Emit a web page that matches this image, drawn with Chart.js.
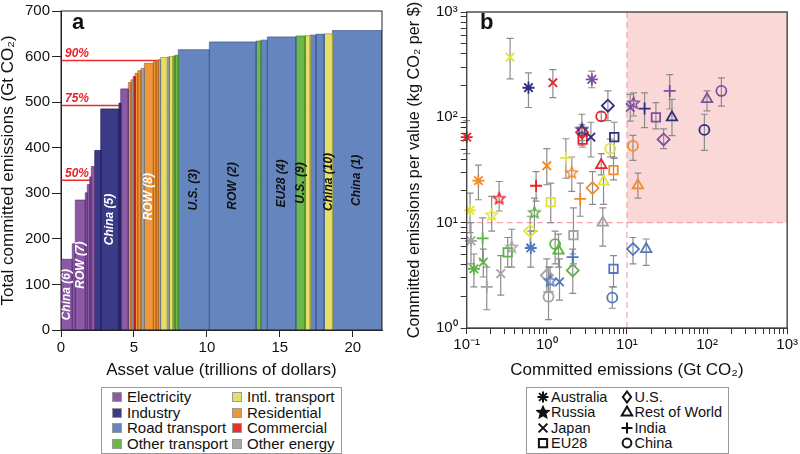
<!DOCTYPE html>
<html>
<head>
<meta charset="utf-8">
<title>Committed emissions</title>
<script src="https://cdn.jsdelivr.net/npm/chart.js@4.4.1/dist/chart.umd.min.js"></script>
<style>
  body { margin: 0; background: #fff; font-family: "Liberation Sans", Arial, sans-serif; color: #111; }
  #page { position: relative; width: 800px; height: 454px; overflow: hidden; }
  canvas { position: absolute; top: 0; }
  #chartA { left: 0; }
  #chartB { left: 400px; }
  .tag { position: absolute; font-weight: bold; font-size: 22px; line-height: 22px; }
  .legend { position: absolute; border: 1px solid #9a9a9a; box-sizing: border-box; }
  .item { position: absolute; font-size: 15px; line-height: 16px; white-space: nowrap; }
  .sw { position: absolute; width: 10px; height: 10px; border: 1px solid #999; box-sizing: border-box; }
</style>
</head>
<body>
<div id="page">
  <canvas id="chartA" width="400" height="382"></canvas>
  <canvas id="chartB" width="400" height="382"></canvas>
  <div class="tag" style="left:72px;top:11px">a</div>
  <div class="tag" style="left:480px;top:11px">b</div>
  <div class="legend" style="left:101px;top:387px;width:241px;height:67px"></div>
  <div class="legend" style="left:526px;top:387px;width:203px;height:67px"></div>
</div>
<script>
/* ---------- 공통 ---------- */
const sectors = ['Electricity', 'Industry', 'Road transport', 'Other transport',
                 'Intl. transport', 'Residential', 'Commercial', 'Other energy'];
const sectorFill = ['#8b59a6', '#3b3a88', '#6585bf', '#6cb84a', '#e4de6b', '#f0963a', '#ea302c', '#a9a9ab'];
const sectorEdge = ['#5e3a78', '#24235f', '#45608f', '#4a8a30', '#a8a23e', '#b86a20', '#a81c1a', '#77777a'];
const sectorMark = ['#7c4f9f', '#2d2c80', '#4f78bf', '#5cb443', '#e3e33a', '#f28a2a', '#ec2227', '#a3a3a3'];

/* ---------- panel a ---------- */
// asset value of each bar (trillions of dollars)
const barWidth = [0.775, 0.206, 0.686, 0.137, 0.165, 0.110, 0.233, 0.410, 1.255, 0.117,
                  0.520, 0.185, 0.158, 0.117, 0.185, 0.226, 0.226, 0.617, 0.185, 0.158,
                  0.151, 0.466, 0.137, 0.233, 0.158, 0.226, 2.126, 3.203, 0.322, 0.453,
                  1.948, 0.638, 0.343, 0.391, 0.569, 0.569, 3.388];
// cumulative committed emissions at the top of each bar (Gt CO2)
const barTop = [155, 189, 285, 301, 319, 336, 359, 394, 485, 498,
                529, 543, 549, 556, 563, 569, 574, 585, 589, 591,
                593, 598, 599, 600, 601, 603, 615, 632, 634, 636,
                643, 645, 646, 647, 649, 650, 657];
const barSector = [0, 0, 0, 0, 0, 0, 0, 1, 1, 1,
                   0, 5, 7, 6, 5, 5, 7, 5, 5, 5,
                   7, 4, 7, 4, 3, 3, 2, 2, 3, 2,
                   2, 3, 4, 2, 2, 4, 2];
const namedBar = [0, 2, 8, 17, 26, 27, 30, 31, 35, 36];
const namedText = ['China (6)', 'ROW (7)', 'China (5)', 'ROW (8)', 'U.S. (3)',
                   'ROW (2)', 'EU28 (4)', 'U.S. (9)', 'China (10)', 'China (1)'];
const shareLines = [50, 75, 90];

/* ---------- panel b ---------- */
const countries = ['Australia', 'Russia', 'Japan', 'EU28', 'U.S.', 'Rest of World', 'India', 'China'];
// columns follow sectors: Elec, Industry, Road, Other tr., Intl., Resid., Comm., Other en.
const emis = [
  [3.65, 0.59, 0.63, 0.123, 0.11, 0.14, 0.1, 0.113],
  [12.1, 2.74, 1.1, 0.70, 0.205, 2.05, 0.254, 0.365],
  [11.0, 3.55, 1.44, 0.161, 0.348, 1.0, 1.19, 0.266],
  [23.0, 6.95, 6.8, 0.325, 1.12, 6.8, 2.8, 2.15],
  [28.7, 5.79, 11.9, 2.11, 0.62, 3.72, 2.75, 1.0],
  [100, 36.5, 17.4, 1.4, 5.11, 13.7, 4.78, 5.0],
  [34.2, 16.6, 2.1, 0.158, 1.73, 2.61, 0.735, 0.178],
  [151, 92.6, 6.56, 1.27, 6.19, 11.9, 4.78, 1.05]
];
const perValue = [
  [229, 191, 5.75, 3.65, 13.1, 25.1, 65, 6.73],
  [138, 77.7, 2.84, 12.6, 12, 30.1, 17.1, 5.91],
  [124, 65, 2.74, 4.22, 373, 34.7, 213, 3.28],
  [100, 65, 3.65, 5.23, 15.7, 31.6, 61.3, 7.6],
  [61.7, 129, 5.62, 3.52, 8.35, 21.3, 72, 3.16],
  [149, 100, 5.62, 5.42, 24.6, 22.6, 35.2, 10],
  [178, 121, 4.7, 7.08, 41.3, 16.8, 22.4, 2.46],
  [178, 76, 1.94, 6.26, 50.5, 53.5, 102, 1.98]
];
const errHigh = [
  [274, 264, 8.3, 5.04, 19.1, 35.2, 93, 10],
  [171, 107, 3.78, 17.1, 17.8, 42, 24.6, 8.66],
  [165, 89.8, 4.53, 5.62, 562, 50.5, 284, 4.87],
  [138, 89.8, 4.87, 7.23, 23.7, 42, 68, 13.8],
  [77.7, 178, 7.23, 5.04, 11.5, 30.5, 85, 4.53],
  [178, 148, 7.0, 7.8, 32.8, 29.5, 45.3, 13.8],
  [254, 171, 5.6, 11.1, 62.6, 23.7, 30.5, 3.78],
  [237, 107, 2.46, 8.3, 62, 67.3, 112, 3.78]
];
const errLow = [
  [191, 124, 3.78, 2.46, 8.06, 16.5, 45.3, 4.07],
  [103, 54, 2.2, 8.3, 8.3, 19.8, 12.9, 3.78],
  [92, 42, 1.84, 3.05, 232, 22.9, 154, 2.05],
  [77.7, 40.7, 2.46, 3.78, 10, 25.5, 52, 4.07],
  [50.5, 93, 4.07, 2.13, 6.0, 14.9, 60, 2.2],
  [115, 67, 3.93, 3.78, 14.9, 17.1, 28.4, 6.0],
  [120, 80, 3.9, 4.37, 26.4, 11.5, 16, 1.49],
  [128, 48.6, 1.54, 4.07, 42, 39, 93, 1.2]
];
const threshold = 10;

Chart.defaults.font.family = '"Liberation Sans", Arial, sans-serif';
Chart.defaults.color = '#111';

/* marker shapes, also used for the legend of b */
function drawMark(g, kind, cx, cy, r, color, lw, filled) {
    g.strokeStyle = color;
    g.fillStyle = color;
    g.lineWidth = lw;
    g.beginPath();
    if (kind === 'star5') {
        const ri = r * 0.45;
        for (let i = 0; i < 10; i++) {
            const a = -Math.PI / 2 + i * Math.PI / 5;
            const rr = i % 2 ? ri : r;
            g.lineTo(cx + rr * Math.cos(a), cy + 0.6 + rr * Math.sin(a));
        }
        g.closePath();
        if (filled) g.fill();
    } else if (kind === 'star') {
        for (let i = 0; i < 4; i++) {
            const a = i * Math.PI / 4;
            g.moveTo(cx - r * Math.cos(a), cy - r * Math.sin(a));
            g.lineTo(cx + r * Math.cos(a), cy + r * Math.sin(a));
        }
    } else if (kind === 'crossRot') {
        const d = r * 0.8;
        g.moveTo(cx - d, cy - d); g.lineTo(cx + d, cy + d);
        g.moveTo(cx - d, cy + d); g.lineTo(cx + d, cy - d);
    } else if (kind === 'cross') {
        g.moveTo(cx - r, cy); g.lineTo(cx + r, cy);
        g.moveTo(cx, cy - r); g.lineTo(cx, cy + r);
    } else if (kind === 'rect') {
        const d = r * 0.75;
        g.rect(cx - d, cy - d, 2 * d, 2 * d);
    } else if (kind === 'rectRot') {
        g.moveTo(cx, cy - r); g.lineTo(cx + r * 0.75, cy); g.lineTo(cx, cy + r); g.lineTo(cx - r * 0.75, cy); g.closePath();
    } else if (kind === 'triangle') {
        g.moveTo(cx, cy - r); g.lineTo(cx + r * 0.95, cy + r * 0.65); g.lineTo(cx - r * 0.95, cy + r * 0.65); g.closePath();
    } else {
        g.arc(cx, cy, r * 0.8, 0, Math.PI * 2);
    }
    g.stroke();
}
function markCanvas(kind, color, size, lw, filled) {
    const c = document.createElement('canvas');
    c.width = c.height = size;
    drawMark(c.getContext('2d'), kind, size / 2, size / 2, size / 2 - 1.5, color, lw, filled);
    return c;
}

const frame = {
    id: 'frame',
    afterDraw(chart, args, opts) {
        const { left, top, right, bottom } = chart.chartArea;
        const ctx = chart.ctx;
        ctx.save();
        ctx.strokeStyle = opts.color;
        ctx.lineWidth = opts.width;
        ctx.strokeRect(left, top, right - left, bottom - top);
        ctx.restore();
    }
};

/* ---------- chart a ---------- */
const barStart = [];
let acc = 0;
barWidth.forEach(w => { barStart.push(acc); acc += w; });
const total = barTop[barTop.length - 1];

const dsA = barWidth.map((w, i) => ({
    data: [{ x: barStart[i], y: 0 }, { x: barStart[i], y: barTop[i] },
           { x: barStart[i] + w, y: barTop[i] }, { x: barStart[i] + w, y: 0 }],
    fill: 'origin',
    backgroundColor: sectorFill[barSector[i]],
    borderColor: sectorEdge[barSector[i]],
    borderWidth: 0.8,
    pointRadius: 0,
    tension: 0
}));
shareLines.forEach(p => {
    dsA.push({
        data: [{ x: 0, y: total * p / 100 }, { x: 22, y: total * p / 100 }],
        borderColor: '#ee2b2b', borderWidth: 1.5, pointRadius: 0, fill: false
    });
});

const barText = {
    id: 'barText',
    afterDatasetsDraw(chart) {
        const ctx = chart.ctx, xs = chart.scales.x, ys = chart.scales.y;
        ctx.save();
        ctx.font = 'italic bold 12px "Liberation Sans", Arial, sans-serif';
        ctx.textAlign = 'center';
        ctx.textBaseline = 'middle';
        namedBar.forEach((i, k) => {
            const xc = xs.getPixelForValue(barStart[i] + barWidth[i] / 2);
            const yc = ys.getPixelForValue(barTop[i] / 2);
            ctx.save();
            ctx.translate(xc, yc);
            ctx.rotate(-Math.PI / 2);
            ctx.fillStyle = [0, 1, 5].includes(barSector[i]) ? '#fff' : '#111';
            ctx.fillText(namedText[k], 0, 0);
            ctx.restore();
        });
        ctx.fillStyle = '#e8202a';
        ctx.textAlign = 'left';
        ctx.textBaseline = 'bottom';
        shareLines.forEach(p => {
            ctx.fillText(p + '%', xs.getPixelForValue(0) + 4, ys.getPixelForValue(total * p / 100) - 1);
        });
        ctx.restore();
    }
};

new Chart(document.getElementById('chartA'), {
    type: 'line',
    data: { datasets: dsA },
    options: {
        responsive: false,
        animation: false,
        events: [],
        layout: { padding: { left: 0, right: 18, top: 7, bottom: 0 } },
        plugins: { legend: { display: false }, tooltip: { enabled: false }, frame: { color: '#222', width: 1 } },
        scales: {
            x: {
                type: 'linear', min: 0, max: 22,
                ticks: { stepSize: 5, includeBounds: false, font: { size: 15 }, padding: 2, maxRotation: 0 },
                grid: { drawOnChartArea: false, tickLength: 7, color: '#222' },
                border: { color: '#222' },
                title: { display: true, text: 'Asset value (trillions of dollars)', font: { size: 17, lineHeight: 1 }, padding: { top: 0, bottom: 3.5 } },
                afterFit: s => { s.height = 52; }
            },
            y: {
                min: 0, max: 700,
                ticks: { stepSize: 100, font: { size: 15 }, padding: 2 },
                grid: { drawOnChartArea: false, tickLength: 9, color: '#222' },
                border: { color: '#222' },
                title: { display: true, text: 'Total committed emissions (Gt CO₂)', font: { size: 17, lineHeight: 1 }, padding: { top: 0, bottom: 0 } },
                afterFit: s => { s.width = 61; }
            }
        }
    },
    plugins: [frame, barText]
});

/* ---------- chart b ---------- */
const markStyles = ['star', null, 'crossRot', 'rect', 'rectRot', 'triangle', 'cross', 'circle'];
const starMarks = sectorMark.map(c => markCanvas('star5', c, 15, 1.5, false));

const dsB = countries.map((name, ci) => ({
    type: 'scatter',
    label: name,
    data: emis[ci].map((x, si) => ({ x: x, y: perValue[ci][si], lo: errLow[ci][si], hi: errHigh[ci][si] })),
    pointStyle: ci === 1 ? starMarks : markStyles[ci],
    pointRadius: ci === 7 ? 5 : 6,
    pointBorderWidth: 1.8,
    pointBorderColor: sectorMark,
    pointBackgroundColor: 'rgba(0,0,0,0)',
    showLine: false,
    clip: false
}));
dsB.push({
    type: 'line',
    data: [{ x: 0.1, y: threshold }, { x: 1000, y: threshold }],
    borderColor: '#f3a3a8', borderWidth: 1.2, borderDash: [6, 4], pointRadius: 0, fill: false
});
dsB.push({
    type: 'line',
    data: [{ x: threshold, y: 1 }, { x: threshold, y: 1000 }],
    borderColor: '#f3a3a8', borderWidth: 1.2, borderDash: [6, 4], pointRadius: 0, fill: false
});
dsB.push({
    type: 'line',
    data: [{ x: threshold, y: 1000 }, { x: 1000, y: 1000 }],
    borderWidth: 0, pointRadius: 0,
    fill: { value: threshold }, backgroundColor: '#fbd8d8'
});

const errorBars = {
    id: 'errorBars',
    beforeDatasetDraw(chart, args) {
        if (args.index !== countries.length - 1) return;
        const ctx = chart.ctx, xs = chart.scales.x, ys = chart.scales.y;
        ctx.save();
        ctx.strokeStyle = '#8c8c8c';
        ctx.lineWidth = 1.2;
        for (let ci = 0; ci < countries.length; ci++) {
            chart.data.datasets[ci].data.forEach(p => {
                const px = xs.getPixelForValue(p.x);
                const t = ys.getPixelForValue(p.hi), b = ys.getPixelForValue(p.lo);
                ctx.beginPath();
                ctx.moveTo(px, t); ctx.lineTo(px, b);
                ctx.moveTo(px - 3.5, t); ctx.lineTo(px + 3.5, t);
                ctx.moveTo(px - 3.5, b); ctx.lineTo(px + 3.5, b);
                ctx.stroke();
            });
        }
        ctx.restore();
    }
};

const sup = { '-': '⁻', '0': '⁰', '1': '¹', '2': '²', '3': '³' };
function powLabel(v) {
    const e = Math.round(Math.log10(v));
    if (Math.abs(v - Math.pow(10, e)) > 1e-9 * v) return '';
    return '10' + String(e).split('').map(ch => sup[ch]).join('');
}
function logTicks(lo, hi) {
    const t = [];
    for (let e = lo; e < hi; e++)
        for (let m = 1; m < 10; m++) t.push(m * Math.pow(10, e));
    t.push(Math.pow(10, hi));
    return t.map(v => ({ value: v }));
}

new Chart(document.getElementById('chartB'), {
    type: 'scatter',
    data: { datasets: dsB },
    options: {
        responsive: false,
        animation: false,
        events: [],
        layout: { padding: { left: 0, right: 12, top: 8, bottom: 0 } },
        plugins: { legend: { display: false }, tooltip: { enabled: false }, frame: { color: '#444', width: 1.4 } },
        scales: {
            x: {
                type: 'logarithmic', min: 0.1, max: 1000,
                afterBuildTicks: s => { s.ticks = logTicks(-1, 3); },
                ticks: { autoSkip: false, maxRotation: 0, font: { size: 15 }, padding: 2, callback: v => powLabel(v) },
                grid: { drawOnChartArea: false, tickLength: 6, color: '#333' },
                border: { color: '#333' },
                title: { display: true, text: 'Committed emissions (Gt CO₂)', font: { size: 17, lineHeight: 1 }, padding: { top: 0, bottom: 3.5 } },
                afterFit: s => { s.height = 54; }
            },
            y: {
                type: 'logarithmic', min: 1, max: 1000,
                afterBuildTicks: s => { s.ticks = logTicks(0, 3); },
                ticks: { autoSkip: false, font: { size: 15 }, padding: 3, callback: v => powLabel(v) },
                grid: { drawOnChartArea: false, tickLength: 6, color: '#333' },
                border: { color: '#333' },
                title: { display: true, text: 'Committed emissions per value (kg CO₂ per $)', font: { size: 16.3, lineHeight: 1 }, padding: { top: 6.5, bottom: 0 } },
                afterFit: s => { s.width = 66.7; }
            }
        }
    },
    plugins: [frame, errorBars]
});

/* ---------- legends ---------- */
const page = document.getElementById('page');
const rowA = [397, 412.5, 428, 443.5];
sectors.forEach((name, i) => {
    const col = Math.floor(i / 4), r = rowA[i % 4];
    const sw = document.createElement('div');
    sw.className = 'sw';
    sw.style.left = (112 + col * 120) + 'px';
    sw.style.top = (r - 5) + 'px';
    sw.style.background = sectorFill[i];
    page.appendChild(sw);
    const t = document.createElement('div');
    t.className = 'item';
    t.style.left = (127 + col * 120) + 'px';
    t.style.top = (r - 8) + 'px';
    t.textContent = name;
    page.appendChild(t);
});
const legendKinds = ['star', 'star5', 'crossRot', 'rect', 'rectRot', 'triangle', 'cross', 'circle'];
const rowB = [397, 412, 427.5, 442.5];
countries.forEach((name, i) => {
    const col = Math.floor(i / 4), r = rowB[i % 4];
    const c = markCanvas(legendKinds[i], '#111', 14, 2, true);
    c.style.position = 'absolute';
    c.style.left = (536 + col * 84) + 'px';
    c.style.top = (r - 7) + 'px';
    page.appendChild(c);
    const t = document.createElement('div');
    t.className = 'item';
    t.style.fontSize = '14.5px';
    t.style.left = (551 + col * 83.5) + 'px';
    t.style.top = (r - 8) + 'px';
    t.textContent = name;
    page.appendChild(t);
});
</script>
</body>
</html>
